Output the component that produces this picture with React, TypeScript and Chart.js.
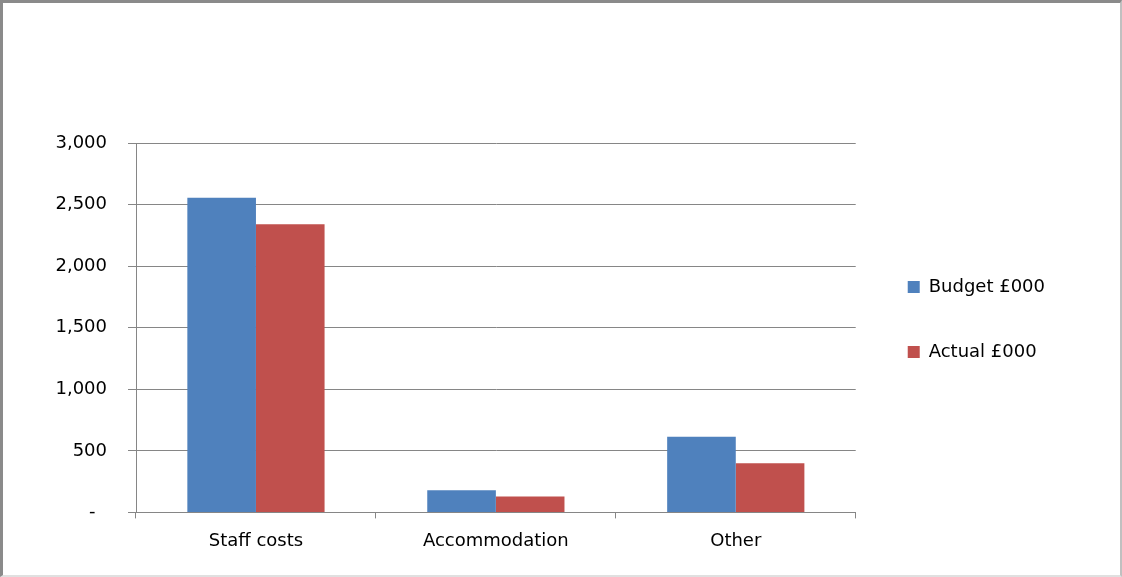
import React, { useEffect, useRef } from "react";
import { Chart, registerables } from "chart.js";

Chart.register(...registerables);

const categories = ["Staff costs", "Accommodation", "Other"];
const budgetValues = [2555, 180, 615];
const actualValues = [2340, 130, 400];
const seriesNames = ["Budget £000", "Actual £000"];
const yTicks = [0, 500, 1000, 1500, 2000, 2500, 3000];

const FONT = "'DejaVu Sans', sans-serif";

const legendShift = {
  id: "legendShift",
  afterUpdate(chart: any) {
    const lg = chart.legend;
    if (!lg) return;
    const dy = -34;
    const dx = 5;
    lg.top += dy;
    lg.bottom += dy;
    lg.left += dx;
    lg.right += dx;
    if (lg.adjustHitBoxes) lg.adjustHitBoxes();
  },
};

export default function App() {
  const ref = useRef<HTMLCanvasElement | null>(null);

  useEffect(() => {
    document.body.style.margin = "0";
    if (!ref.current) return;
    const chart = new Chart(ref.current, {
      type: "bar",
      data: {
        labels: categories,
        datasets: [
          {
            label: seriesNames[0],
            data: budgetValues,
            backgroundColor: "#4F81BD",
            borderWidth: 0,
          },
          {
            label: seriesNames[1],
            data: actualValues,
            backgroundColor: "#C0504D",
            borderWidth: 0,
          },
        ],
      },
      plugins: [legendShift],
      options: {
        animation: false,
        responsive: false,
        devicePixelRatio: 1,
        layout: { padding: { top: 140, left: 0, right: 70, bottom: 11 } },
        plugins: {
          title: { display: false },
          tooltip: { enabled: false },
          legend: {
            position: "right",
            align: "center",
            labels: {
              boxWidth: 12,
              boxHeight: 12,
              padding: 47,
              color: "#000",
              font: { family: FONT, size: 18 },
            },
          },
        },
        scales: {
          x: {
            offset: true,
            grid: {
              offset: true,
              drawOnChartArea: false,
              drawTicks: true,
              tickLength: 6,
              color: "#868686",
            },
            border: { display: true, color: "#868686", width: 1 },
            ticks: {
              color: "#000",
              padding: 12,
              font: { family: FONT, size: 18 },
            },
          },
          y: {
            min: 0,
            max: 3000,
            afterBuildTicks: (scale: any) => {
              scale.ticks = yTicks.map((v) => ({ value: v }));
            },
            afterFit: (scale: any) => {
              scale.width = 133;
            },
            grid: {
              color: "#868686",
              tickLength: 8,
              drawTicks: true,
            },
            border: { display: true, color: "#868686", width: 1 },
            ticks: {
              color: "#000",
              padding: 21,
              font: { family: FONT, size: 18 },
              callback: (v: any) =>
                Number(v) === 0 ? "-  " : Number(v).toLocaleString("en-US"),
            },
          },
        },
        datasets: {
          bar: { barPercentage: 1, categoryPercentage: 0.572 },
        },
      } as any,
    });
    return () => chart.destroy();
  }, []);

  return (
    <div
      style={{
        position: "absolute",
        left: 0,
        top: 0,
        width: 1122,
        height: 577,
        boxSizing: "border-box",
        borderTop: "3px solid #8a8a8a",
        borderLeft: "3px solid #8a8a8a",
        borderRight: "2px solid #c0c0c0",
        borderBottom: "2px solid #e0e0e0",
        background: "#fff",
        overflow: "hidden",
      }}
    >
      <canvas
        ref={ref}
        width={1117}
        height={572}
        style={{ display: "block", width: 1117, height: 572 }}
      />
    </div>
  );
}
